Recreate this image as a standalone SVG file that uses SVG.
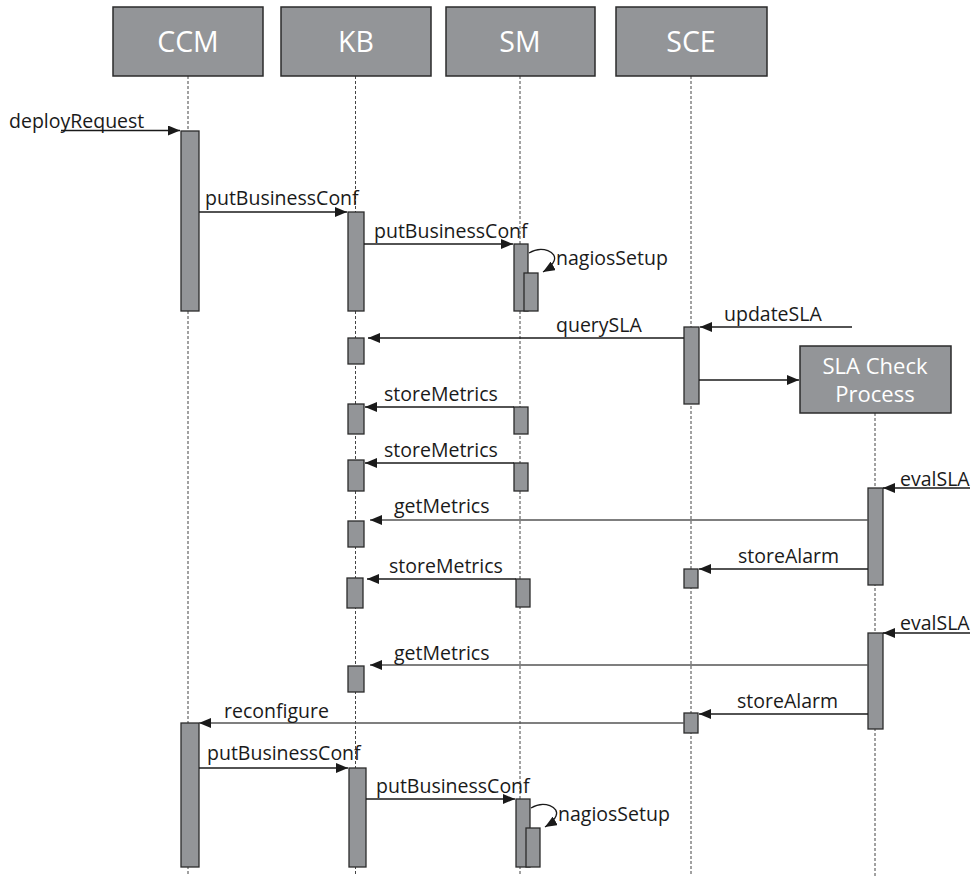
<svg xmlns="http://www.w3.org/2000/svg" width="973" height="876" viewBox="0 0 973 876">
<defs>
<marker id="ah" markerWidth="12" markerHeight="10" refX="12" refY="5" orient="auto" markerUnits="userSpaceOnUse">
<path d="M0,0 L12,5 L0,10 Z" fill="#1a1a1a"/>
</marker>
<style>
.hdr{fill:#939598;stroke:#2b2b2b;stroke-width:1.5}
.act{fill:#939598;stroke:#2b2b2b;stroke-width:1.3}
.life{stroke:#444;stroke-width:1;stroke-dasharray:3,2;fill:none}
.msg{stroke:#1a1a1a;stroke-width:1.3;fill:none;marker-end:url(#ah)}
.msg2{stroke:#555;stroke-width:1.6;fill:none;marker-end:url(#ah)}
.ht{font-family:"Open Sans","Liberation Sans",sans-serif;font-size:28.5px;fill:#fff;text-anchor:middle}
.st{font-family:"Open Sans","Liberation Sans",sans-serif;font-size:22px;fill:#fff;text-anchor:middle}
.lb{font-family:"Open Sans","Liberation Sans",sans-serif;font-size:19.5px;fill:#1a1a1a}
</style>
</defs>
<rect width="973" height="876" fill="#fff"/>
<g id="lifelines">
<line class="life" x1="188" y1="76" x2="188" y2="876"/>
<line class="life" x1="355.5" y1="76" x2="355.5" y2="876"/>
<line class="life" x1="520" y1="76" x2="520" y2="876"/>
<line class="life" x1="691" y1="76" x2="691" y2="876"/>
<line class="life" x1="875" y1="413" x2="875" y2="876"/>
</g>
<g id="CCM">
<rect class="hdr" x="113" y="7" width="150" height="69"/>
<text class="ht" x="188" y="52">CCM</text>
<rect class="act" x="181" y="131" width="18" height="180"/>
<rect class="act" x="181" y="723" width="18" height="144"/>
</g>
<g id="KB">
<rect class="hdr" x="281" y="7" width="150" height="69"/>
<text class="ht" x="356" y="52">KB</text>
<rect class="act" x="348" y="212" width="16" height="99"/>
<rect class="act" x="348" y="338" width="16" height="26"/>
<rect class="act" x="348" y="404" width="16" height="30"/>
<rect class="act" x="348" y="460" width="16" height="31"/>
<rect class="act" x="348" y="521" width="16" height="26"/>
<rect class="act" x="347" y="578" width="16" height="30"/>
<rect class="act" x="348" y="666" width="16" height="26"/>
<rect class="act" x="349" y="768" width="17" height="99"/>
</g>
<g id="SM">
<rect class="hdr" x="446" y="7" width="149" height="69"/>
<text class="ht" x="520" y="52">SM</text>
<rect class="act" x="514" y="244" width="14" height="67"/>
<rect class="act" x="524" y="273" width="14" height="38"/>
<rect class="act" x="514" y="407" width="14" height="27"/>
<rect class="act" x="514" y="463" width="14" height="28"/>
<rect class="act" x="516" y="579" width="14" height="28"/>
<rect class="act" x="516" y="799" width="14" height="68"/>
<rect class="act" x="526" y="828" width="14" height="39"/>
</g>
<g id="SCE">
<rect class="hdr" x="616" y="7" width="151" height="69"/>
<text class="ht" x="691" y="52">SCE</text>
<rect class="act" x="684" y="327" width="15" height="77"/>
<rect class="act" x="684" y="569" width="14" height="19"/>
<rect class="act" x="684" y="713" width="14" height="20"/>
</g>
<g id="SLACheck">
<rect class="hdr" x="800" y="346" width="151" height="67"/>
<text class="st" x="875" y="374">SLA Check</text>
<text class="st" x="875" y="402">Process</text>
<rect class="act" x="868" y="488" width="15" height="97"/>
<rect class="act" x="868" y="633" width="15" height="96"/>
</g>
<g id="connectors">
<line class="msg" x1="61" y1="130.5" x2="180" y2="130.5"/>
<line class="msg" x1="199" y1="212" x2="347" y2="212"/>
<line class="msg" x1="364" y1="244" x2="513" y2="244"/>
<path class="msg" d="M529,253 C542,245 558,252 554,261 C552,266 548,269 543,272"/>
<line class="msg" x1="852" y1="327" x2="700" y2="327"/>
<line class="msg" x1="684" y1="338" x2="368" y2="338"/>
<line class="msg" x1="699" y1="380" x2="799" y2="380"/>
<line class="msg" x1="514" y1="407" x2="365" y2="407"/>
<line class="msg" x1="514" y1="463" x2="365" y2="463"/>
<line class="msg" x1="970" y1="488" x2="883" y2="488"/>
<line class="msg2" x1="868" y1="520" x2="370" y2="520"/>
<line class="msg" x1="868" y1="569" x2="699" y2="569"/>
<line class="msg" x1="516" y1="579" x2="367" y2="579"/>
<line class="msg" x1="970" y1="633" x2="883" y2="633"/>
<line class="msg2" x1="868" y1="665" x2="370" y2="665"/>
<line class="msg" x1="868" y1="714" x2="699" y2="714"/>
<line class="msg2" x1="684" y1="723" x2="199" y2="723"/>
<line class="msg" x1="199" y1="768" x2="348" y2="768"/>
<line class="msg" x1="366" y1="799" x2="515" y2="799"/>
<path class="msg" d="M531,808 C544,800 560,807 556,816 C554,821 550,824 545,827"/>
</g>
<g id="labels">
<text class="lb" x="9" y="128">deployRequest</text>
<text class="lb" x="205" y="205">putBusinessConf</text>
<text class="lb" x="374" y="238">putBusinessConf</text>
<text class="lb" x="556" y="265">nagiosSetup</text>
<text class="lb" x="724" y="321">updateSLA</text>
<text class="lb" x="556" y="332">querySLA</text>
<text class="lb" x="384" y="401">storeMetrics</text>
<text class="lb" x="384" y="457">storeMetrics</text>
<text class="lb" x="900" y="486">evalSLA</text>
<text class="lb" x="394" y="513">getMetrics</text>
<text class="lb" x="738" y="563">storeAlarm</text>
<text class="lb" x="389" y="573">storeMetrics</text>
<text class="lb" x="900" y="630">evalSLA</text>
<text class="lb" x="394" y="660">getMetrics</text>
<text class="lb" x="737" y="708">storeAlarm</text>
<text class="lb" x="224" y="718">reconfigure</text>
<text class="lb" x="207" y="760">putBusinessConf</text>
<text class="lb" x="376" y="793">putBusinessConf</text>
<text class="lb" x="558" y="821">nagiosSetup</text>
</g>
</svg>
